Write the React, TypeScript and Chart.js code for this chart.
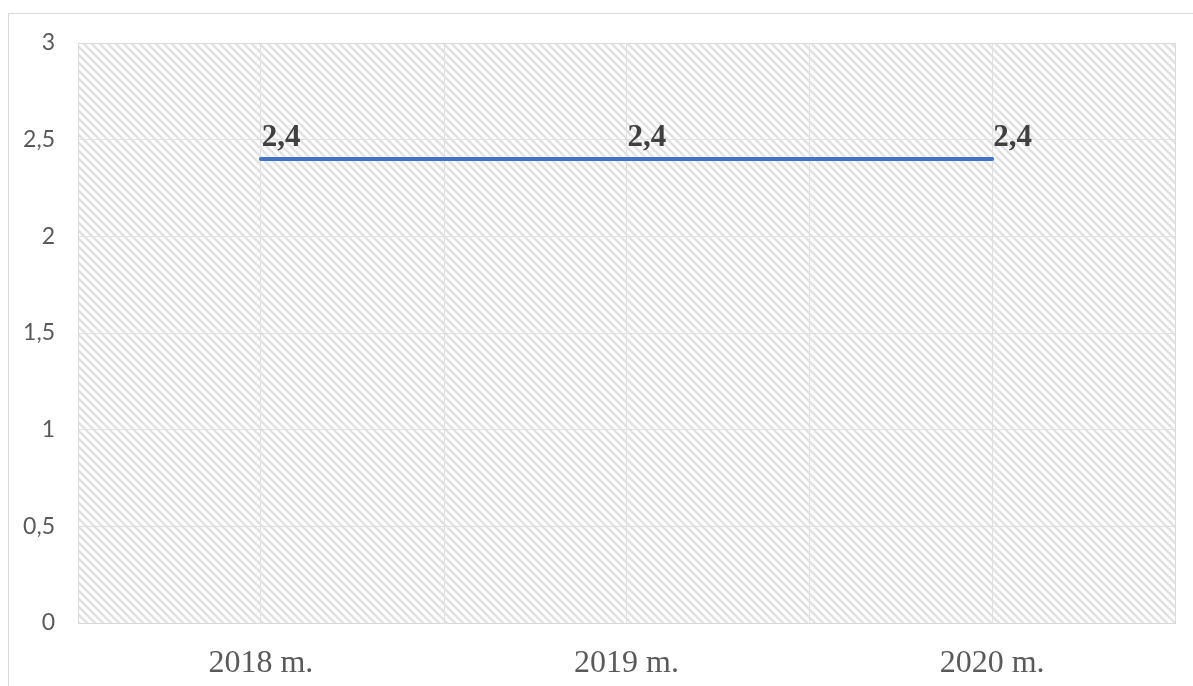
import React, { useEffect, useRef } from "react";
import { Chart, registerables } from "chart.js";

Chart.register(...registerables);

const categories = ["2018 m.", "2019 m.", "2020 m."];
const values = [2.4, 2.4, 2.4];
const yTicks = { min: 0, max: 3, step: 0.5 };

const fmt = (v: number) => String(v).replace(".", ",");

function makePattern(): CanvasPattern | string {
  const c = document.createElement("canvas");
  c.width = 8;
  c.height = 8;
  const g = c.getContext("2d");
  if (!g) return "#f4f4f4";
  g.fillStyle = "#ffffff";
  g.fillRect(0, 0, 8, 8);
  g.strokeStyle = "#e1e1e1";
  g.lineWidth = 2.4;
  g.beginPath();
  g.moveTo(-2, -2);
  g.lineTo(10, 10);
  g.moveTo(-10, -2);
  g.lineTo(2, 10);
  g.moveTo(6, -2);
  g.lineTo(18, 10);
  g.stroke();
  const p = g.createPattern(c, "repeat");
  return p || "#f4f4f4";
}

const framePlugin = {
  id: "frame",
  beforeDraw(chart: any) {
    const { ctx, chartArea: a } = chart;
    ctx.save();
    ctx.fillStyle = "#ffffff";
    ctx.fillRect(0, 0, chart.width, chart.height);
    ctx.strokeStyle = "#d9d9d9";
    ctx.lineWidth = 1;
    ctx.strokeRect(8.5, 13.5, 1300, 800);
    ctx.fillStyle = makePattern();
    ctx.fillRect(a.left, a.top, a.right - a.left, a.bottom - a.top);
    ctx.restore();
  },
  beforeDatasetsDraw(chart: any) {
    const { ctx, chartArea: a, scales } = chart;
    const x = scales.x;
    ctx.save();
    ctx.strokeStyle = "#e0e0e0";
    ctx.lineWidth = 1;
    ctx.beginPath();
    for (let i = 0; i < categories.length - 1; i++) {
      const px = Math.round((x.getPixelForValue(i) + x.getPixelForValue(i + 1)) / 2) + 0.5;
      ctx.moveTo(px, a.top);
      ctx.lineTo(px, a.bottom);
    }
    ctx.stroke();
    ctx.strokeStyle = "#dadada";
    ctx.strokeRect(Math.round(a.left) + 0.5, Math.round(a.top) + 0.5, a.right - a.left, a.bottom - a.top);
    ctx.restore();
  },
  afterDatasetsDraw(chart: any) {
    const { ctx } = chart;
    const meta = chart.getDatasetMeta(0);
    ctx.save();
    ctx.font = "bold 31px 'Liberation Serif', 'Times New Roman', serif";
    ctx.fillStyle = "#404040";
    ctx.textAlign = "left";
    ctx.textBaseline = "alphabetic";
    meta.data.forEach((pt: any, i: number) => {
      ctx.fillText(fmt(values[i]), pt.x + 1, pt.y - 13);
    });
    ctx.restore();
  },
};

export default function App() {
  const ref = useRef<HTMLCanvasElement>(null);
  useEffect(() => {
    document.body.style.margin = "0";
    const canvas = ref.current;
    if (!canvas) return;
    const chart = new Chart(canvas, {
      type: "line",
      data: {
        labels: categories,
        datasets: [
          {
            data: values,
            borderColor: "#4472C4",
            borderWidth: 4,
            borderCapStyle: "round",
            pointRadius: 0,
            fill: false,
            tension: 0,
          },
        ],
      },
      options: {
        animation: false,
        responsive: false,
        devicePixelRatio: 1,
        layout: { padding: { top: 43, right: 18, left: 0, bottom: 0 } },
        plugins: { legend: { display: false }, tooltip: { enabled: false } },
        scales: {
          x: {
            offset: true,
            grid: { color: "#e0e0e0", drawTicks: false, offset: false },
            border: { display: true, color: "#d0d0d0" },
            ticks: {
              color: "#595959",
              padding: 21,
              font: { family: "'Liberation Serif', 'Times New Roman', serif", size: 32 },
            },
            afterFit(s: any) {
              s.height = 63;
            },
          },
          y: {
            min: yTicks.min,
            max: yTicks.max,
            grid: { color: "#e0e0e0", drawTicks: false },
            border: { display: false },
            ticks: {
              stepSize: yTicks.step,
              color: "#595959",
              padding: 23,
              font: { family: "Lato, 'Liberation Sans', sans-serif", size: 23 },
              callback: (v: any) => fmt(Number(v)),
            },
            afterFit(s: any) {
              s.width = 78;
            },
          },
        },
      },
      plugins: [framePlugin],
    });
    return () => chart.destroy();
  }, []);
  return <canvas ref={ref} width={1193} height={686} style={{ display: "block", width: 1193, height: 686 }} />;
}
